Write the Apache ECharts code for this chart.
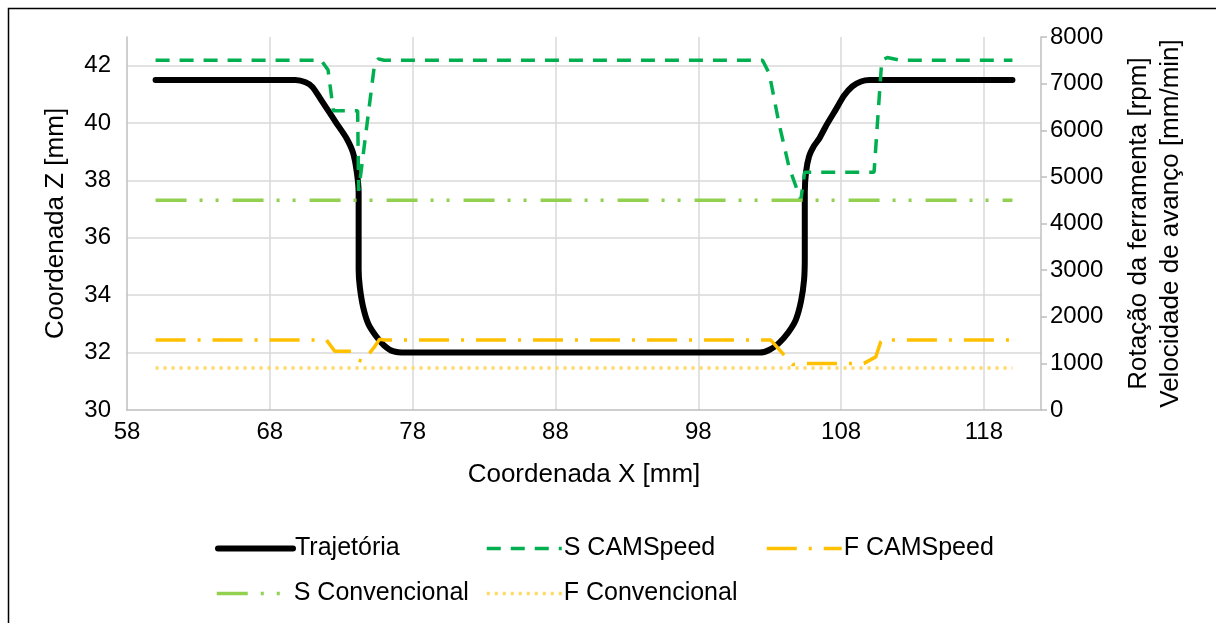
<!DOCTYPE html>
<html><head><meta charset="utf-8">
<script src="https://cdn.jsdelivr.net/npm/echarts@6/dist/echarts.min.js"></script>
<style>html,body{margin:0;padding:0;background:#fff}#c{width:1216px;height:623px}</style>
</head><body><div id="c"></div>
<script>
// Trajetória (Coordenada X [mm], Coordenada Z [mm])
const trajX = [60, 69.8, 70.5, 71.0, 71.5, 71.96, 72.66, 73.36, 73.83, 74.1, 74.22, 74.22, 74.3, 74.53, 74.9, 75.46, 76.0, 76.62, 77.5,
  102.3, 103.0, 103.65, 104.3, 104.83, 105.2, 105.41, 105.46, 105.46, 105.55, 105.76, 106.1, 106.46, 107.0, 107.63, 108.2, 108.79, 109.4, 110.0, 120];
const trajZ = [41.5, 41.5, 41.42, 41.25, 40.88, 40.53, 40.0, 39.48, 38.96, 38.26, 37.56, 34.9, 34.3, 33.6, 33.0, 32.56, 32.25, 32.05, 32.0,
  32.0, 32.1, 32.33, 32.7, 33.14, 33.8, 34.54, 35.3, 37.6, 38.3, 38.84, 39.2, 39.45, 39.95, 40.47, 40.95, 41.28, 41.45, 41.5, 41.5];

// S CAMSpeed (rpm)
const sCamX = [60, 71.6, 72.08, 72.45, 74.15, 74.22, 75.34, 75.6, 76.0, 102.5, 102.97, 103.65, 104.35, 105.18, 105.45, 110.31, 110.66, 110.85, 111.24, 112.2, 120];
const sCamV = [7500, 7500, 7290, 6420, 6420, 4700, 7430, 7530, 7500, 7500, 7220, 6150, 5220, 4500, 5100, 5100, 6650, 7500, 7560, 7500, 7500];

// F CAMSpeed (mm/min)
const fCamX = [60, 71.97, 72.55, 73.71, 74.22, 74.52, 75.34, 75.69, 76.0, 103.08, 104.6, 105.5, 109.6, 110.43, 110.78, 111.0, 111.5, 120];
const fCamV = [1500, 1500, 1260, 1260, 1070, 1036, 1360, 1520, 1500, 1500, 975, 1000, 1000, 1140, 1465, 1530, 1500, 1500];

// Convencional (constant)
const sConvX = [60, 120];
const sConvV = [4500, 4500];
const fConvX = [60, 120];
const fConvV = [900, 900];

const xTicks = { min: 58, max: 122, interval: 10 };
const zTicks = { min: 30, max: 43, interval: 2 };
const rTicks = { min: 0, max: 8000, interval: 1000 };

const zip = (a, b) => a.map((v, i) => [v, b[i]]);
const FONT = 'Liberation Sans, Arial, sans-serif';
const chart = echarts.init(document.getElementById('c'), null, { renderer: 'canvas' });

const names = ['Trajetória', 'S CAMSpeed', 'F CAMSpeed', 'S Convencional', 'F Convencional'];
const legendPos = [[215, 536], [485, 536], [765, 536], [215, 581], [485, 581]];
const legendW = [6, 3.5, 3.5, 3.5, 3.5];

chart.setOption({
  backgroundColor: '#fff',
  animation: false,
  textStyle: { fontFamily: FONT },
  graphic: [{ type: 'rect', shape: { x: 8.5, y: 8.5, width: 1400, height: 800 }, style: { fill: 'none', stroke: '#000', lineWidth: 1.5 }, silent: true }],
  grid: { left: 127, right: 175, top: 37, bottom: 213, containLabel: false, outerBoundsMode: 'none' },
  legend: names.map((n, i) => ({
    data: [n], left: legendPos[i][0], top: legendPos[i][1],
    itemWidth: 75, itemHeight: 14, padding: 0,
    textStyle: { fontSize: 25, color: '#000', fontFamily: FONT, padding: [0, 0, 0, -3] },
    itemStyle: { opacity: 0, borderWidth: 0, color: 'rgba(0,0,0,0)' },
    lineStyle: { width: legendW[i], opacity: 1 }
  })),
  xAxis: {
    type: 'value', min: xTicks.min, max: xTicks.max, interval: xTicks.interval,
    axisLine: { show: true, lineStyle: { color: '#bfbfbf', width: 1.5 } },
    axisTick: { show: false },
    axisLabel: { fontSize: 24, color: '#000', margin: 10, showMaxLabel: false, fontFamily: FONT },
    splitLine: { show: true, showMaxLine: false, showMinLine: false, lineStyle: { color: '#d9d9d9', width: 1.5 } },
    name: 'Coordenada X [mm]', nameLocation: 'middle', nameGap: 52,
    nameTextStyle: { fontSize: 26, color: '#000', fontFamily: FONT }
  },
  yAxis: [{
    type: 'value', min: zTicks.min, max: zTicks.max, interval: zTicks.interval,
    axisLine: { show: true, lineStyle: { color: '#bfbfbf', width: 1.5 } },
    axisTick: { show: false },
    axisLabel: { fontSize: 24, color: '#000', margin: 16, showMaxLabel: false, fontFamily: FONT },
    splitLine: { show: true, showMaxLine: false, showMinLine: false, lineStyle: { color: '#d9d9d9', width: 1.5 } },
    name: 'Coordenada Z [mm]', nameLocation: 'middle', nameGap: 58, nameRotate: 90,
    nameTextStyle: { fontSize: 26, color: '#000', fontFamily: FONT }
  }, {
    type: 'value', position: 'right', min: rTicks.min, max: rTicks.max, interval: rTicks.interval,
    axisLine: { show: true, lineStyle: { color: '#bfbfbf', width: 1.5 } },
    axisTick: { show: true, inside: false, length: 6, lineStyle: { color: '#bfbfbf', width: 1.5 } },
    axisLabel: { fontSize: 24, color: '#000', margin: 9, fontFamily: FONT, formatter: v => String(v) },
    splitLine: { show: false },
    name: 'Rotação da ferramenta [rpm]\nVelocidade de avanço [mm/min]', nameLocation: 'middle', nameGap: 82, nameRotate: 90,
    nameTextStyle: { fontSize: 26, color: '#000', lineHeight: 32, fontFamily: FONT }
  }],
  series: [{
    name: names[0], type: 'line', yAxisIndex: 0, data: zip(trajX, trajZ), symbol: 'none', smooth: 0.2,
    lineStyle: { color: '#000', width: 6, cap: 'round', join: 'round' }, itemStyle: { color: '#000' }
  }, {
    name: names[1], type: 'line', yAxisIndex: 1, data: zip(sCamX, sCamV), symbol: 'none',
    lineStyle: { color: '#00B050', width: 3.5, type: [14, 10] }, itemStyle: { color: '#00B050' }
  }, {
    name: names[2], type: 'line', yAxisIndex: 1, data: zip(fCamX, fCamV), symbol: 'none',
    lineStyle: { color: '#FFC000', width: 3.5, type: [30, 12, 3, 12] }, itemStyle: { color: '#FFC000' }
  }, {
    name: names[3], type: 'line', yAxisIndex: 1, data: zip(sConvX, sConvV), symbol: 'none',
    lineStyle: { color: '#92D050', width: 3.5, type: [31, 13, 3, 13, 3, 14] }, itemStyle: { color: '#92D050' }
  }, {
    name: names[4], type: 'line', yAxisIndex: 1, data: zip(fConvX, fConvV), symbol: 'none',
    lineStyle: { color: '#FFD966', width: 3.5, type: [3, 5] }, itemStyle: { color: '#FFD966' }
  }]
});
</script></body></html>
